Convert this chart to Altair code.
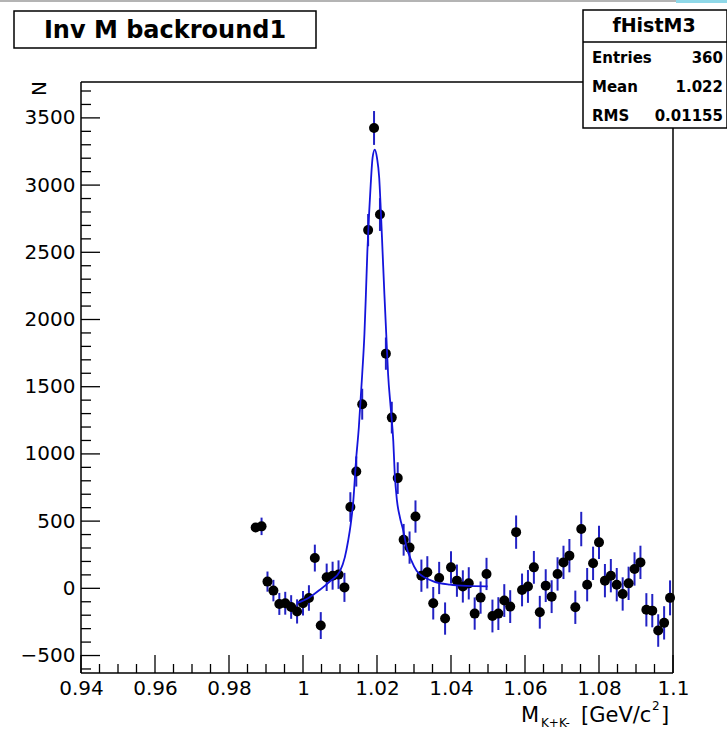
import altair as alt
import pandas as pd

# ---- histogram data (bin centres, contents, errors) ----
mass = [0.9872, 0.9888, 0.9904, 0.9920, 0.9936, 0.9952, 0.9968, 0.9984, 1.0000, 1.0016,
        1.0032, 1.0048, 1.0064, 1.0080, 1.0096, 1.0112, 1.0128, 1.0144, 1.0160, 1.0176,
        1.0192, 1.0208, 1.0224, 1.0240, 1.0256, 1.0272, 1.0288, 1.0304, 1.0320, 1.0336,
        1.0352, 1.0368, 1.0384, 1.0400, 1.0416, 1.0432, 1.0448, 1.0464, 1.0480, 1.0496,
        1.0512, 1.0528, 1.0544, 1.0560, 1.0576, 1.0592, 1.0608, 1.0624, 1.0640, 1.0656,
        1.0672, 1.0688, 1.0704, 1.0720, 1.0736, 1.0752, 1.0768, 1.0784, 1.0800, 1.0816,
        1.0832, 1.0848, 1.0864, 1.0880, 1.0896, 1.0912, 1.0928, 1.0944, 1.0960, 1.0976,
        1.0992]
counts = [453, 461, 50, -17, -116, -111, -139, -172, -111, -72,
          225, -277, 82, 94, 102, 7, 605, 869, 1370, 2665,
          3425, 2781, 1746, 1270, 820, 361, 303, 534, 94, 119,
          -111, 77, -225, 156, 57, 14, 37, -188, -69, 107,
          -206, -188, -91, -136, 418, -12, 14, 156, -178, 20,
          -62, 107, 193, 243, -141, 441, 27, 186, 342, 57,
          94, 27, -42, 37, 144, 193, -160, -166, -314, -257,
          -71]
errors = [30, 65, 75, 80, 82, 85, 88, 90, 92, 95,
          100, 100, 102, 104, 106, 108, 110, 112, 115, 120,
          126, 122, 120, 118, 118, 118, 120, 120, 120, 120,
          121, 120, 120, 120, 120, 120, 120, 120, 120, 120,
          122, 122, 122, 122, 124, 122, 122, 122, 122, 122,
          122, 124, 124, 124, 124, 128, 124, 124, 124, 124,
          124, 124, 124, 124, 124, 124, 124, 124, 121, 124,
          130]

# ---- fit curve ----
fit_mass = [0.9984, 1.0016, 1.0045, 1.0073, 1.0100, 1.0113, 1.0122, 1.0129, 1.0136, 1.0143,
            1.0151, 1.0160, 1.0166, 1.0170, 1.0174, 1.0179, 1.0183, 1.0188, 1.0194, 1.0200,
            1.0206, 1.0210, 1.0215, 1.0220, 1.0225, 1.0230, 1.0237, 1.0244, 1.0248, 1.0254,
            1.0262, 1.0271, 1.0280, 1.0293, 1.0307, 1.0325, 1.0352, 1.0397, 1.0442, 1.0499]
fit_counts = [-110, -70, -12, 52, 128, 230, 354, 478, 652, 940,
              1200, 1593, 1890, 2187, 2509, 2806, 3004, 3202, 3264, 3202,
              3053, 2831, 2509, 2187, 1890, 1593, 1345, 1097, 850, 652,
              527, 429, 305, 206, 131, 87, 52, 27, 18, 15]

# ---- ticks ----
x_major = [0.94, 0.96, 0.98, 1.0, 1.02, 1.04, 1.06, 1.08, 1.1]
x_minor = [0.945, 0.95, 0.955, 0.965, 0.97, 0.975, 0.985, 0.99, 0.995,
           1.005, 1.01, 1.015, 1.025, 1.03, 1.035, 1.045, 1.05, 1.055,
           1.065, 1.07, 1.075, 1.085, 1.09, 1.095]
y_major = [-500, 0, 500, 1000, 1500, 2000, 2500, 3000, 3500]
y_minor = [-600, -400, -300, -200, -100, 100, 200, 300, 400, 600, 700, 800, 900,
           1100, 1200, 1300, 1400, 1600, 1700, 1800, 1900, 2100, 2200, 2300, 2400,
           2600, 2700, 2800, 2900, 3100, 3200, 3300, 3400, 3600, 3700]

W, H = 592, 591
FONT = "DejaVu Sans"
xs = alt.Scale(domain=[0.94, 1.1], nice=False, zero=False)
ys = alt.Scale(domain=[-630, 3767], nice=False, zero=False)

xaxis = alt.Axis(values=x_major, format="~g", ticks=False, domain=False, grid=False,
                 labelFont=FONT, labelFontSize=20, labelPadding=5, labelColor="black",
                 labelFlush=False, labelOverlap=False, title="")
yaxis = alt.Axis(values=y_major, format="d", ticks=False, domain=False, grid=False,
                 labelFont=FONT, labelFontSize=20, labelPadding=6, labelColor="black",
                 labelFlush=False, labelOverlap=False, title="")

df = pd.DataFrame({"m": mass, "n": counts, "e": errors})
df["lo"] = df["n"] - df["e"]
df["hi"] = df["n"] + df["e"]
fit = pd.DataFrame({"m": fit_mass, "n": fit_counts})
one = pd.DataFrame({"a": [0]})

errbars = alt.Chart(df).mark_rule(color="#2222c4", strokeWidth=2).encode(
    x=alt.X("m:Q", scale=xs, axis=xaxis),
    y=alt.Y("lo:Q", scale=ys, axis=yaxis),
    y2="hi:Q",
)
points = alt.Chart(df).mark_circle(color="black", opacity=1, size=100).encode(
    x=alt.X("m:Q", scale=xs, axis=xaxis),
    y=alt.Y("n:Q", scale=ys, axis=yaxis),
)
curve = alt.Chart(fit).mark_line(color="#1414dc", strokeWidth=1.8, interpolate="monotone").encode(
    x=alt.X("m:Q", scale=xs, axis=xaxis),
    y=alt.Y("n:Q", scale=ys, axis=yaxis),
)

xmaj = alt.Chart(pd.DataFrame({"t": x_major})).mark_rule(color="black", strokeWidth=1.3).encode(
    x=alt.X("t:Q", scale=xs, axis=xaxis), y=alt.value(H), y2=alt.value(H - 18))
xmin = alt.Chart(pd.DataFrame({"t": x_minor})).mark_rule(color="black", strokeWidth=1.3).encode(
    x=alt.X("t:Q", scale=xs, axis=xaxis), y=alt.value(H), y2=alt.value(H - 9))
ymaj = alt.Chart(pd.DataFrame({"t": y_major})).mark_rule(color="black", strokeWidth=1.3).encode(
    y=alt.Y("t:Q", scale=ys, axis=yaxis), x=alt.value(0), x2=alt.value(19))
ymin = alt.Chart(pd.DataFrame({"t": y_minor})).mark_rule(color="black", strokeWidth=1.3).encode(
    y=alt.Y("t:Q", scale=ys, axis=yaxis), x=alt.value(0), x2=alt.value(10))


def hline(x1, x2, y, color="black", w=1.5):
    return alt.Chart(one).mark_rule(color=color, strokeWidth=w).encode(
        x=alt.value(x1), x2=alt.value(x2), y=alt.value(y))


def vline(x, y1, y2, color="black", w=1.5):
    return alt.Chart(one).mark_rule(color=color, strokeWidth=w).encode(
        x=alt.value(x), y=alt.value(y1), y2=alt.value(y2))


def box(x1, x2, y1, y2, fill="white", stroke="black", w=1.5):
    return alt.Chart(one).mark_rect(fill=fill, stroke=stroke, strokeWidth=w).encode(
        x=alt.value(x1), x2=alt.value(x2), y=alt.value(y1), y2=alt.value(y2))


def txt(s, x, y, size, align="left", bold=False, angle=0, baseline="alphabetic"):
    kw = dict(font=FONT, fontSize=size, align=align, baseline=baseline, color="black",
              fontWeight="bold" if bold else "normal")
    if angle:
        kw["angle"] = angle
    return alt.Chart(one).mark_text(**kw).encode(
        x=alt.value(x), y=alt.value(y), text=alt.value(s))


frame = (hline(0, W, 0) + hline(0, W, H) + vline(0, 0, H) + vline(W, 0, H))

title_box = box(-67, 235, -71, -34)
title_txt = txt("Inv M backround1", 84, -44, 24, align="center", bold=True)

stats = (
    box(502, 646, -72, 46)
    + hline(502, 646, -40)
    + txt("fHistM3", 573, -50, 19, align="center", bold=True)
    + txt("Entries", 511, -19, 15, bold=True)
    + txt("360", 642, -19, 15, align="right", bold=True)
    + txt("Mean", 511, 10, 15, bold=True)
    + txt("1.022", 642, 10, 15, align="right", bold=True)
    + txt("RMS", 511, 39, 15, bold=True)
    + txt("0.01155", 642, 39, 15, align="right", bold=True)
)

ylab = txt("N", -41, -1, 20, align="right", angle=270, baseline="middle")
xlab = (
    txt("M", 458, 640, 21, align="right")
    + txt("K+K-", 460, 645, 12)
    + txt("[GeV/c", 500, 640, 21)
    + txt("2", 571, 628, 12)
    + txt("]", 580, 640, 21)
)

top_strip = hline(-81, 595, -81, color="#b4b4b4", w=2) + box(595, 646, -82, -79, fill="#8fd8e8", stroke="#8fd8e8", w=0)

chart = alt.layer(
    errbars, points, curve,
    xmaj, xmin, ymaj, ymin,
    frame, title_box, title_txt, stats, ylab, xlab, top_strip,
).properties(
    width=W, height=H,
    padding={"left": 81, "top": 82, "right": 54, "bottom": 77},
    autosize=alt.AutoSizeParams(type="none"),
    background="white",
).configure_view(strokeWidth=0)

chart.save("out.html", embed_options={"renderer": "svg", "actions": False})
